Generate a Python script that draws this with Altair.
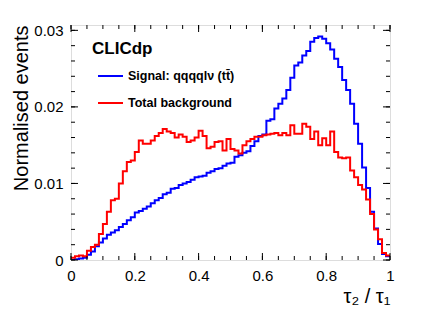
import altair as alt
import pandas as pd

# ---- data (80 bins on [0, 1]) ----
n_bins = 80
x_min, x_max = 0.0, 1.0

signal = [
    0.0000, 0.0001, 0.0002, 0.0003, 0.0007, 0.0011, 0.0018, 0.0023, 0.0028, 0.0033,
    0.0036, 0.0039, 0.0043, 0.0047, 0.0052, 0.0056, 0.0062, 0.0064, 0.0067, 0.0070,
    0.0074, 0.0078, 0.0081, 0.0086, 0.0088, 0.0093, 0.0094, 0.0098, 0.0100, 0.0102,
    0.0105, 0.0108, 0.0109, 0.0110, 0.0114, 0.0116, 0.0119, 0.0120, 0.0123, 0.0126,
    0.0127, 0.0135, 0.0137, 0.0140, 0.0142, 0.0149, 0.0155, 0.0162, 0.0164, 0.0182,
    0.0184, 0.0198, 0.0204, 0.0211, 0.0222, 0.0238, 0.0254, 0.0258, 0.0267, 0.0273,
    0.0285, 0.0290, 0.0292, 0.0289, 0.0283, 0.0275, 0.0263, 0.0252, 0.0235, 0.0222,
    0.0204, 0.0178, 0.0152, 0.0121, 0.0094, 0.0063, 0.0041, 0.0021, 0.0008, 0.0005,
]

background = [
    0.0003, 0.0005, 0.0006, 0.0005, 0.0012, 0.0017, 0.0020, 0.0034, 0.0047, 0.0063,
    0.0078, 0.0080, 0.0100, 0.0116, 0.0128, 0.0130, 0.0141, 0.0156, 0.0152, 0.0152,
    0.0156, 0.0162, 0.0166, 0.0171, 0.0168, 0.0166, 0.0160, 0.0164, 0.0161, 0.0154,
    0.0156, 0.0160, 0.0169, 0.0162, 0.0146, 0.0148, 0.0154, 0.0155, 0.0143, 0.0158,
    0.0145, 0.0143, 0.0139, 0.0150, 0.0155, 0.0158, 0.0161, 0.0161, 0.0163, 0.0164,
    0.0165, 0.0166, 0.0163, 0.0166, 0.0163, 0.0176, 0.0165, 0.0165, 0.0178, 0.0174,
    0.0158, 0.0168, 0.0150, 0.0159, 0.0150, 0.0168, 0.0141, 0.0134, 0.0133, 0.0134,
    0.0117, 0.0108, 0.0098, 0.0092, 0.0079, 0.0060, 0.0040, 0.0027, 0.0009, 0.0006,
]

series_names = ["Signal: qqqqlν (tt\u0304)", "Total background"]
series_colors = ["#0000ff", "#ff0000"]

x_ticks_major = [0.0, 0.2, 0.4, 0.6, 0.8, 1.0]
x_ticks_minor = [i * 0.05 for i in range(21)]
y_ticks_major = [0.0, 0.01, 0.02, 0.03]
y_ticks_minor = [i * 0.002 for i in range(16)]

x_title = "τ₂ / τ₁"
y_title = "Normalised events"
brand = "CLICdp"

# ---- build the table ----
edges = [x_min + (x_max - x_min) * i / n_bins for i in range(n_bins + 1)]
rows = []
for name, vals in zip(series_names, [signal, background]):
    for i, e in enumerate(edges):
        v = vals[i] if i < n_bins else vals[-1]
        rows.append({"x": e, "y": v, "series": name})
df = pd.DataFrame(rows)

W, H = 319, 235
xs = alt.Scale(domain=[0, 1], nice=False, zero=False)
ys = alt.Scale(domain=[0, 0.0307], nice=False, zero=False)

FONT = "Liberation Sans"

hist = alt.Chart(df).mark_line(interpolate="step-after", strokeWidth=2, clip=True).encode(
    x=alt.X("x:Q", scale=xs,
            axis=alt.Axis(values=x_ticks_major, format="~g", ticks=False, domain=False, grid=False,
                          labelFont=FONT, labelFontSize=15, labelPadding=8, labelFlush=False,
                          labelColor="black",
                          title=x_title, titleFont=FONT, titleFontSize=20, titleFontWeight="normal",
                          titleAnchor="end", titleAlign="right", titleX=W, titleY=42,
                          titleBaseline="alphabetic", titleColor="black")),
    y=alt.Y("y:Q", scale=ys,
            axis=alt.Axis(values=y_ticks_major, format="~g", ticks=False, domain=False, grid=False,
                          labelFont=FONT, labelFontSize=15, labelPadding=8, labelFlush=False,
                          labelColor="black",
                          title=y_title, titleFont=FONT, titleFontSize=20, titleFontWeight="normal",
                          titleAnchor="end", titleAlign="right", titleAngle=270,
                          titleX=-44, titleY=0, titleBaseline="alphabetic", titleColor="black")),
    color=alt.Color("series:N", scale=alt.Scale(domain=series_names, range=series_colors), legend=None),
    detail="series:N",
)

def xtick(vals, length):
    d = pd.DataFrame({"t": vals})
    bottom = alt.Chart(d).mark_rule(color="black", strokeWidth=1).encode(
        x=alt.X("t:Q", scale=xs), y=alt.value(H), y2=alt.value(H - length))
    top = alt.Chart(d).mark_rule(color="black", strokeWidth=1).encode(
        x=alt.X("t:Q", scale=xs), y=alt.value(0), y2=alt.value(length))
    return [bottom, top]

def ytick(vals, length):
    d = pd.DataFrame({"t": vals})
    left = alt.Chart(d).mark_rule(color="black", strokeWidth=1).encode(
        y=alt.Y("t:Q", scale=ys), x=alt.value(0), x2=alt.value(length))
    right = alt.Chart(d).mark_rule(color="black", strokeWidth=1).encode(
        y=alt.Y("t:Q", scale=ys), x=alt.value(W), x2=alt.value(W - length))
    return [left, right]

ticks = xtick(x_ticks_major, 7) + xtick(x_ticks_minor, 4) + ytick(y_ticks_major, 7) + ytick(y_ticks_minor, 4)

brand_df = pd.DataFrame({"label": [brand]})
brand_txt = alt.Chart(brand_df).mark_text(align="left", baseline="alphabetic", font=FONT,
                                          fontSize=17, fontWeight="bold", color="black").encode(
    text="label:N", x=alt.value(21), y=alt.value(29))

leg_df = pd.DataFrame({"label": series_names, "color": series_colors})
leg_y = [51, 78]
leg_layers = []
for i, (name, col) in enumerate(zip(series_names, series_colors)):
    sub = leg_df[leg_df["label"] == name]
    leg_layers.append(alt.Chart(sub).mark_rule(color=col, strokeWidth=2).encode(
        x=alt.value(27), x2=alt.value(52), y=alt.value(leg_y[i])))
    leg_layers.append(alt.Chart(sub).mark_text(align="left", baseline="middle", font=FONT,
                                               fontSize=12.5, fontWeight="bold", color="black").encode(
        text="label:N", x=alt.value(57), y=alt.value(leg_y[i])))

chart = alt.layer(hist, *ticks, brand_txt, *leg_layers).properties(
    width=W, height=H,
    padding={"left": 63, "top": 17, "right": 20, "bottom": 45},
    autosize=alt.AutoSizeParams(type="none"),
).configure_view(stroke="black", strokeWidth=1.5).configure(background="white")

chart.save("out.html", embed_options={"renderer": "svg", "actions": False})
